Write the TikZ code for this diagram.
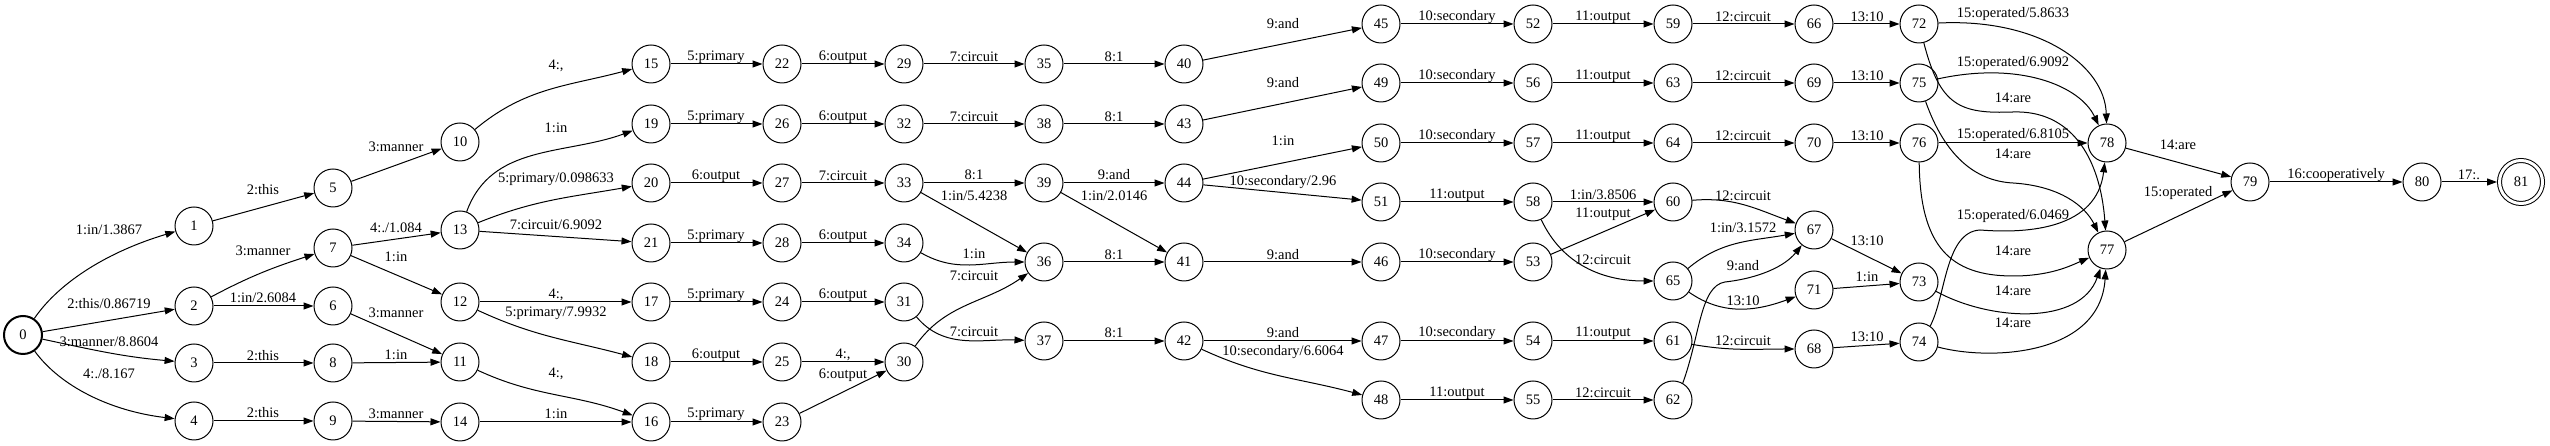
\documentclass[tikz,border=0pt]{standalone}
\usepackage{fontspec}
\setmainfont{Liberation Serif}
\usetikzlibrary{arrows.meta}
\newcommand\fsz{\fontsize{14.5bp}{17bp}\selectfont}
\newcommand\lab[3]{\node[lb] (#1) at (#2) {#3};}
\begin{document}
\begin{tikzpicture}[x=1bp,y=1bp,
  st/.style={circle, draw, line width=1bp, minimum size=38bp, inner sep=0pt, font=\fsz},
  fin/.style={circle, draw, line width=1bp, double, double distance=3bp, minimum size=43bp, inner sep=0pt, outer sep=2.5bp, font=\fsz},
  e/.style={line width=1bp, -{Triangle[length=10bp,width=7bp]}},
  lb/.style={inner sep=0pt, font=\fsz}]
\useasboundingbox (0,0) rectangle (2550,446);
% nodes
\node[st, line width=2bp] (n0) at (23,111) {0};
\node[st] (n1) at (194,220) {1};
\node[st] (n2) at (194,140) {2};
\node[st] (n3) at (194,83) {3};
\node[st] (n4) at (194,25) {4};
\node[st] (n5) at (333,258) {5};
\node[st] (n7) at (333,198) {7};
\node[st] (n6) at (333,140) {6};
\node[st] (n8) at (333,83) {8};
\node[st] (n9) at (333,25) {9};
\node[st] (n10) at (460,304) {10};
\node[st] (n13) at (460,216) {13};
\node[st] (n12) at (460,144) {12};
\node[st] (n11) at (460,84) {11};
\node[st] (n14) at (460,24) {14};
\node[st] (n15) at (651,382) {15};
\node[st] (n19) at (651,322) {19};
\node[st] (n20) at (651,263) {20};
\node[st] (n21) at (651,203) {21};
\node[st] (n17) at (651,144) {17};
\node[st] (n18) at (651,84) {18};
\node[st] (n16) at (651,24) {16};
\node[st] (n22) at (782,382) {22};
\node[st] (n26) at (782,322) {26};
\node[st] (n27) at (782,263) {27};
\node[st] (n28) at (782,203) {28};
\node[st] (n24) at (782,144) {24};
\node[st] (n25) at (782,84) {25};
\node[st] (n23) at (782,24) {23};
\node[st] (n29) at (904,382) {29};
\node[st] (n32) at (904,322) {32};
\node[st] (n33) at (904,263) {33};
\node[st] (n34) at (904,203) {34};
\node[st] (n31) at (904,144) {31};
\node[st] (n30) at (904,84) {30};
\node[st] (n35) at (1044,382) {35};
\node[st] (n38) at (1044,322) {38};
\node[st] (n39) at (1044,263) {39};
\node[st] (n36) at (1044,184) {36};
\node[st] (n37) at (1044,105) {37};
\node[st] (n40) at (1184,382) {40};
\node[st] (n43) at (1184,322) {43};
\node[st] (n44) at (1184,263) {44};
\node[st] (n41) at (1184,184) {41};
\node[st] (n42) at (1184,105) {42};
\node[st] (n45) at (1381,422) {45};
\node[st] (n49) at (1381,363) {49};
\node[st] (n50) at (1381,303) {50};
\node[st] (n51) at (1381,244) {51};
\node[st] (n46) at (1381,184) {46};
\node[st] (n47) at (1381,105) {47};
\node[st] (n48) at (1381,46) {48};
\node[st] (n52) at (1533,422) {52};
\node[st] (n56) at (1533,363) {56};
\node[st] (n57) at (1533,303) {57};
\node[st] (n58) at (1533,244) {58};
\node[st] (n53) at (1533,184) {53};
\node[st] (n54) at (1533,105) {54};
\node[st] (n55) at (1533,46) {55};
\node[st] (n59) at (1673,422) {59};
\node[st] (n63) at (1673,363) {63};
\node[st] (n64) at (1673,303) {64};
\node[st] (n60) at (1673,244) {60};
\node[st] (n65) at (1673,165) {65};
\node[st] (n61) at (1673,105) {61};
\node[st] (n62) at (1673,46) {62};
\node[st] (n66) at (1814,422) {66};
\node[st] (n69) at (1814,363) {69};
\node[st] (n70) at (1814,303) {70};
\node[st] (n67) at (1814,216) {67};
\node[st] (n71) at (1814,156) {71};
\node[st] (n68) at (1814,97) {68};
\node[st] (n72) at (1919,422) {72};
\node[st] (n75) at (1919,363) {75};
\node[st] (n76) at (1919,303) {76};
\node[st] (n73) at (1919,164) {73};
\node[st] (n74) at (1919,104) {74};
\node[st] (n78) at (2107,303) {78};
\node[st] (n77) at (2107,196) {77};
\node[st] (n79) at (2250,264) {79};
\node[st] (n80) at (2422,264) {80};
\node[fin] (n81) at (2521,264) {81};
% edges
\draw[e] (n0) .. controls (60,165) and (110,195) .. (n1);
\draw[e] (n0) -- (n2);
\draw[e] (n0) to[out=-12,in=175] (n3);
\draw[e] (n0) .. controls (60,60) and (110,35) .. (n4);
\draw[e] (n1) -- (n5);
\draw[e] (n2) to[out=28,in=198] (n7);
\draw[e] (n2) -- (n6);
\draw[e] (n3) -- (n8);
\draw[e] (n4) -- (n9);
\draw[e] (n5) -- (n10);
\draw[e] (n7) -- (n13);
\draw[e] (n7) -- (n12);
\draw[e] (n6) -- (n11);
\draw[e] (n8) -- (n11);
\draw[e] (n9) -- (n14);
\draw[e] (n10) to[out=40,in=195] (n15);
\draw[e] (n13) to[out=70,in=200] (n19);
\draw[e] (n13) to[out=22,in=190] (n20);
\draw[e] (n13) -- (n21);
\draw[e] (n12) -- (n17);
\draw[e] (n12) to[out=-25,in=165] (n18);
\draw[e] (n11) to[out=-25,in=160] (n16);
\draw[e] (n14) -- (n16);
\draw[e] (n15) -- (n22);
\draw[e] (n19) -- (n26);
\draw[e] (n20) -- (n27);
\draw[e] (n21) -- (n28);
\draw[e] (n17) -- (n24);
\draw[e] (n18) -- (n25);
\draw[e] (n16) -- (n23);
\draw[e] (n22) -- (n29);
\draw[e] (n26) -- (n32);
\draw[e] (n27) -- (n33);
\draw[e] (n28) -- (n34);
\draw[e] (n24) -- (n31);
\draw[e] (n25) -- (n30);
\draw[e] (n23) -- (n30);
\draw[e] (n29) -- (n35);
\draw[e] (n32) -- (n38);
\draw[e] (n33) -- (n39);
\draw[e] (n33) -- (n36);
\draw[e] (n34) to[out=-30,in=180] (n36);
\draw[e] (n30) to[out=55,in=215] (n36);
\draw[e] (n31) to[out=-50,in=178] (n37);
\draw[e] (n35) -- (n40);
\draw[e] (n38) -- (n43);
\draw[e] (n39) -- (n44);
\draw[e] (n39) -- (n41);
\draw[e] (n36) -- (n41);
\draw[e] (n37) -- (n42);
\draw[e] (n40) -- (n45);
\draw[e] (n43) -- (n49);
\draw[e] (n44) -- (n50);
\draw[e] (n44) -- (n51);
\draw[e] (n41) -- (n46);
\draw[e] (n42) -- (n47);
\draw[e] (n42) to[out=-25,in=165] (n48);
\draw[e] (n45) -- (n52);
\draw[e] (n49) -- (n56);
\draw[e] (n50) -- (n57);
\draw[e] (n51) -- (n58);
\draw[e] (n46) -- (n53);
\draw[e] (n47) -- (n54);
\draw[e] (n48) -- (n55);
\draw[e] (n52) -- (n59);
\draw[e] (n56) -- (n63);
\draw[e] (n57) -- (n64);
\draw[e] (n58) -- (n60);
\draw[e] (n53) -- (n60);
\draw[e] (n58) to[out=-65,in=180] (n65);
\draw[e] (n54) -- (n61);
\draw[e] (n55) -- (n62);
\draw[e] (n59) -- (n66);
\draw[e] (n63) -- (n69);
\draw[e] (n64) -- (n70);
\draw[e] (n60) to[out=5,in=160] (n67);
\draw[e] (n65) to[out=40,in=190] (n67);
\draw[e] (n62.60) .. controls (1700,110) and (1700,160) .. (1725,164) .. controls (1760,168) and (1785,180) .. (n67);
\draw[e] (n65) to[out=-35,in=200] (n71);
\draw[e] (n61) to[out=-10,in=180] (n68);
\draw[e] (n66) -- (n72);
\draw[e] (n69) -- (n75);
\draw[e] (n70) -- (n76);
\draw[e] (n67) -- (n73);
\draw[e] (n71) -- (n73);
\draw[e] (n68) -- (n74);
\draw[e] (n72) .. controls (2040,428) and (2105,380) .. (n78);
\draw[e] (n72) .. controls (1940,340) and (1960,332) .. (2013,334) .. controls (2070,336) and (2100,290) .. (n77);
\draw[e] (n75) .. controls (2020,385) and (2080,360) .. (n78);
\draw[e] (n75) .. controls (1945,290) and (1975,265) .. (2013,263) .. controls (2060,260) and (2085,240) .. (n77);
\draw[e] (n76) -- (n78);
\draw[e] (n76) .. controls (1920,200) and (1950,170) .. (2013,170) .. controls (2050,170) and (2070,180) .. (n77);
\draw[e] (n74.55) .. controls (1946,150) and (1945,214) .. (1980,216) .. controls (2030,212) and (2097,218) .. (n78);
\draw[e] (n73) .. controls (1990,125) and (2080,120) .. (n77);
\draw[e] (n74) .. controls (1990,85) and (2100,90) .. (n77);
\draw[e] (n78) -- (n79);
\draw[e] (n77) -- (n79);
\draw[e] (n79) -- (n80);
\draw[e] (n80) -- (n81);
% labels
\lab{a1}{109,216}{1:in/1.3867}
\lab{a2}{109,142}{2:this/0.86719}
\lab{a3}{109,104}{3:manner/8.8604}
\lab{a4}{109,72}{4:./8.167}
\lab{b1}{263,256}{2:this}
\lab{b2}{263,195}{3:manner}
\lab{b3}{263,148}{1:in/2.6084}
\lab{b4}{263,90}{2:this}
\lab{b5}{263,33}{2:this}
\lab{c1}{396,299}{3:manner}
\lab{c2}{396,218}{4:./1.084}
\lab{c3}{396,189}{1:in}
\lab{c4}{396,133}{3:manner}
\lab{c5}{396,91}{1:in}
\lab{c6}{396,32}{3:manner}
\lab{d1}{556,380}{4:,}
\lab{d2}{556,318}{1:in}
\lab{d3}{556,267}{5:primary/0.098633}
\lab{d4}{556,221}{7:circuit/6.9092}
\lab{d5}{556,151}{4:,}
\lab{d6}{556,133}{5:primary/7.9932}
\lab{d7}{556,72}{4:,}
\lab{d8}{556,32}{1:in}
\lab{e1}{716,389}{5:primary}
\lab{e2}{716,329}{5:primary}
\lab{e3}{716,270}{6:output}
\lab{e4}{716,210}{5:primary}
\lab{e5}{716,151}{5:primary}
\lab{e6}{716,91}{6:output}
\lab{e7}{716,32}{5:primary}
\lab{f1}{843,389}{6:output}
\lab{f2}{843,329}{6:output}
\lab{f3}{843,270}{7:circuit}
\lab{f4}{843,210}{6:output}
\lab{f5}{843,151}{6:output}
\lab{f6}{843,91}{4:,}
\lab{f7}{843,71}{6:output}
\lab{g1}{974,389}{7:circuit}
\lab{g2}{974,329}{7:circuit}
\lab{g3}{974,271}{8:1}
\lab{g4}{974,250}{1:in/5.4238}
\lab{g5}{974,192}{1:in}
\lab{g6}{974,170}{7:circuit}
\lab{g7}{974,114}{7:circuit}
\lab{h1}{1114,389}{8:1}
\lab{h2}{1114,329}{8:1}
\lab{h3}{1114,271}{9:and}
\lab{h4}{1114,250}{1:in/2.0146}
\lab{h5}{1114,191}{8:1}
\lab{h6}{1114,113}{8:1}
\lab{i1}{1283,422}{9:and}
\lab{i2}{1283,363}{9:and}
\lab{i3}{1283,305}{1:in}
\lab{i4}{1283,264}{10:secondary/2.96}
\lab{i5}{1283,191}{9:and}
\lab{i6}{1283,113}{9:and}
\lab{i7}{1283,94}{10:secondary/6.6064}
\lab{j1}{1457,429}{10:secondary}
\lab{j2}{1457,370}{10:secondary}
\lab{j3}{1457,310}{10:secondary}
\lab{j4}{1457,251}{11:output}
\lab{j5}{1457,191}{10:secondary}
\lab{j6}{1457,113}{10:secondary}
\lab{j7}{1457,53}{11:output}
\lab{k1}{1603,429}{11:output}
\lab{k2}{1603,370}{11:output}
\lab{k3}{1603,310}{11:output}
\lab{k4}{1603,251}{1:in/3.8506}
\lab{k5}{1603,232}{11:output}
\lab{k6}{1603,186}{12:circuit}
\lab{k7}{1603,113}{11:output}
\lab{k8}{1603,53}{12:circuit}
\lab{m1}{1743,429}{12:circuit}
\lab{m2}{1743,370}{12:circuit}
\lab{m3}{1743,310}{12:circuit}
\lab{m4}{1743,250}{12:circuit}
\lab{m5}{1743,218}{1:in/3.1572}
\lab{m6}{1743,180}{9:and}
\lab{m7}{1743,145}{13:10}
\lab{m8}{1743,105}{12:circuit}
\lab{p1}{1867,429}{13:10}
\lab{p2}{1867,370}{13:10}
\lab{p3}{1867,310}{13:10}
\lab{p4}{1867,205}{13:10}
\lab{p5}{1867,169}{1:in}
\lab{p6}{1867,109}{13:10}
\lab{q1}{2013,432}{15:operated/5.8633}
\lab{q2}{2013,383}{15:operated/6.9092}
\lab{q3}{2013,348}{14:are}
\lab{q4}{2013,311}{15:operated/6.8105}
\lab{q5}{2013,292}{14:are}
\lab{q6}{2013,230}{15:operated/6.0469}
\lab{q7}{2013,195}{14:are}
\lab{q8}{2013,155}{14:are}
\lab{q9}{2013,123}{14:are}
\lab{r1}{2178,301}{14:are}
\lab{r2}{2178,253}{15:operated}
\lab{r3}{2336,271}{16:cooperatively}
\lab{r4}{2469,271}{17:.}
\end{tikzpicture}
\end{document}
